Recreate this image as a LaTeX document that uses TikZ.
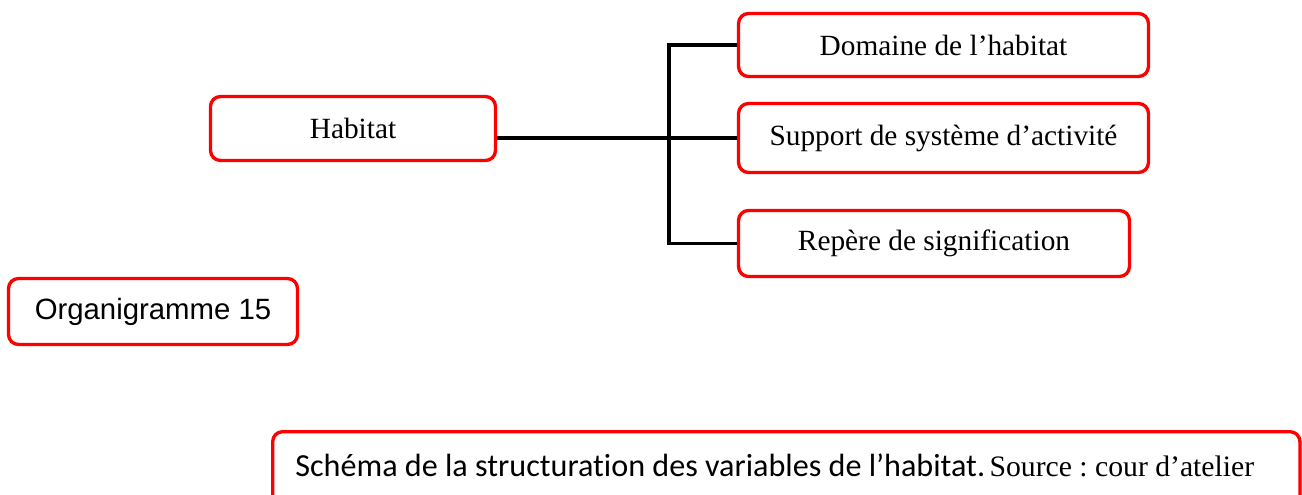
\documentclass[tikz,border=0pt]{standalone}
\usepackage{fontspec}
\setmainfont{Liberation Serif}
\newfontfamily\arialfont{Liberation Sans}
\newfontfamily\calibrifont[Ligatures=NoCommon]{Carlito}
\frenchspacing
\begin{document}
\begin{tikzpicture}[x=0.02cm,y=-0.02cm,
  cadre/.style={draw=red,line width=1.9pt,rounded corners=0.2cm,inner sep=0pt,
    font=\fontsize{16.7}{20}\selectfont},
  trait/.style={line width=2pt}]
\useasboundingbox (0,0) rectangle (1302,494);
\clip (0,0) rectangle (1302,494);
% boites
\node[cadre,minimum width=5.7cm,minimum height=1.28cm] (habitat) at (353,128.5) {Habitat};
\node[cadre,minimum width=8.2cm,minimum height=1.26cm] (domaine) at (943.5,45) {Domaine de l’habitat};
\node[cadre,minimum width=8.2cm,minimum height=1.38cm] (support) at (943.5,138) {Support de système d’activité};
\node[cadre,minimum width=7.82cm,minimum height=1.32cm] (repere) at (934,243.5) {Repère de signification};
\node[cadre,minimum width=5.78cm,minimum height=1.32cm,font=\arialfont\fontsize{16.7}{20}\selectfont] (organigramme) at (153,311.5) {Organigramme 15};
\node[cadre,anchor=north west,minimum width=20.55cm,minimum height=3cm] (cadrelegende) at (271,430) {};
\node[anchor=west,inner sep=0pt] (legende) at (295,465)
  {{\calibrifont\fontsize{18.3}{22}\selectfont Schéma de la structuration des variables de l’habitat.} {\fontsize{16.9}{20}\selectfont Source : cour d’atelier}};
% liaisons
\coordinate (axe) at (669,0);
\draw[trait] (habitat.east |- support.west) -- (support.west);
\draw[trait] (domaine.west) -- (domaine.west -| axe) -- (repere.west -| axe) -- (repere.west);
\end{tikzpicture}
\end{document}
